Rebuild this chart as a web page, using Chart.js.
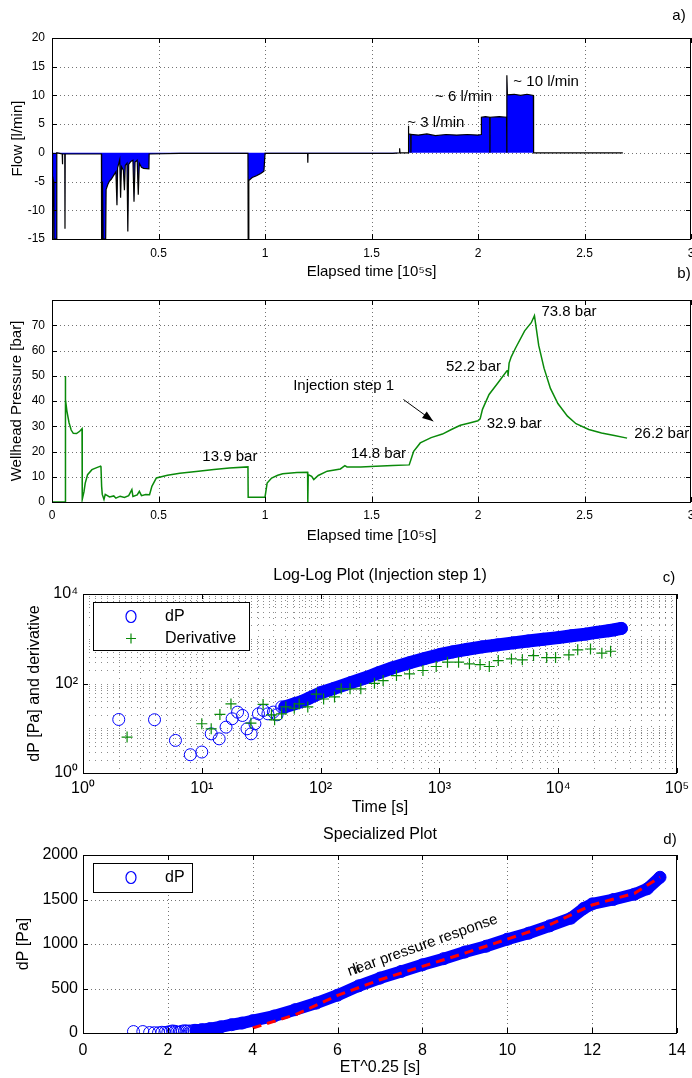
<!DOCTYPE html>
<html>
<head>
<meta charset="utf-8">
<script src="https://cdn.jsdelivr.net/npm/chart.js@4.4.1/dist/chart.umd.min.js"></script>
<style>
  html, body { margin: 0; padding: 0; background: #fff; }
  body { width: 692px; height: 1078px; position: relative; overflow: hidden; }
  .panel { position: absolute; left: 0; width: 692px; }
  canvas { display: block; }
</style>
</head>
<body>
<div class="panel" style="top:0;height:290px"><canvas id="flowChart"></canvas></div>
<div class="panel" style="top:262px;height:290px"><canvas id="pressureChart"></canvas></div>
<div class="panel" style="top:555px;height:265px"><canvas id="logChart"></canvas></div>
<div class="panel" style="top:820px;height:258px"><canvas id="specChart"></canvas></div>
<script>
// a) flow [l/min] vs elapsed time [1e5 s]
const flowTime = [0, 0.001, 0.003, 0.004, 0.008, 0.009, 0.013, 0.016, 0.02, 0.022, 0.023, 0.048, 0.049, 0.05, 0.06, 0.061, 0.062,
  0.232, 0.233, 0.236, 0.237, 0.24, 0.244, 0.248, 0.252, 0.254, 0.262, 0.27, 0.278, 0.288, 0.3, 0.305, 0.308, 0.318, 0.322,
  0.326, 0.335, 0.34, 0.344, 0.352, 0.356, 0.36, 0.37, 0.38, 0.385, 0.39, 0.4, 0.405, 0.41, 0.42, 0.43, 0.455, 0.456,
  0.6, 0.8, 0.92, 0.921, 0.924, 0.94, 0.96, 0.98, 0.995, 1.0, 1.2, 1.201, 1.202, 1.6, 1.63, 1.632, 1.634, 1.672, 1.673,
  1.675, 1.684, 1.685, 1.686, 1.72, 1.76, 1.8, 1.85, 1.9, 1.95, 2.0, 2.015, 2.016, 2.035, 2.055, 2.056, 2.057, 2.1, 2.134,
  2.135, 2.136, 2.138, 2.17, 2.2, 2.23, 2.26, 2.261, 2.68];
const flowRate = [0, -15, -15, -4, -5, -15, -15, -15, -15, -15, 0, -0.2, -2, -0.2, -0.2, -13.2, -0.2,
  -0.2, -15, -15, -5, -15, -15, -15, -15, -6.4, -5.5, -4.9, -4.6, -4, -3.3, -9.1, -2.6, -1.2, -7.8,
  -2.4, -3, -6.5, -2.2, -1.8, -13.7, -2, -1.5, -1.3, -8.5, -1.6, -1.3, -7.3, -1.8, -2.5, -2.7, -2.8, -0.2,
  -0.1, -0.1, -0.1, -15, -4.8, -4.3, -4, -3.6, -3.2, -0.1, -0.1, -1.7, -0.1, -0.1, 0, 0.8, 0, 0, 4.7,
  3.3, 3.2, 0, 3.2, 3.1, 3.3, 3.0, 3.2, 3.1, 3.2, 3.1, 3.2, 6.2, 6.3, 6.2, 0, 6.2, 6.3, 6.2,
  0, 13.5, 10.1, 10.2, 10.0, 10.2, 10.0, 0, 0];
const flowNotes = ['~ 3 l/min', '~ 6 l/min', '~ 10 l/min'];
const flowNoteX = [1.668, 1.798, 2.166];
const flowNoteY = [5.2, 9.8, 12.4];
const flowXTicks = [0.5, 1, 1.5, 2, 2.5, 3];
const flowYTicks = [-15, -10, -5, 0, 5, 10, 15, 20];

// b) wellhead pressure [bar]
const presTime = [0, 0.062, 0.0625, 0.064, 0.07, 0.08, 0.09, 0.1, 0.115, 0.13, 0.141, 0.142, 0.15, 0.156, 0.167, 0.1875,
  0.21, 0.228, 0.23, 0.233, 0.236, 0.244, 0.25, 0.26, 0.27, 0.29, 0.3, 0.32, 0.34, 0.36, 0.375, 0.38, 0.4, 0.41, 0.42,
  0.44, 0.458, 0.469, 0.49, 0.542, 0.6, 0.6875, 0.76, 0.833, 0.92, 0.921, 1.0, 1.01, 1.031, 1.06, 1.083, 1.15, 1.2,
  1.201, 1.203, 1.219, 1.229, 1.25, 1.292, 1.354, 1.375, 1.385, 1.45, 1.521, 1.6, 1.677, 1.69, 1.698, 1.729, 1.78,
  1.833, 1.875, 1.917, 1.96, 2.0, 2.01, 2.021, 2.052, 2.094, 2.135, 2.14, 2.141, 2.146, 2.156, 2.177, 2.219, 2.25,
  2.265, 2.285, 2.31, 2.34, 2.375, 2.42, 2.46, 2.52, 2.58, 2.64, 2.7];
const presBar = [0, 0, 49.9, 40.6, 36, 31.4, 28.5, 27.2, 27.1, 28, 29, 1, 4, 7.5, 10.8, 12.8,
  13.6, 14.2, 13.8, 6.2, 3, 1, 3, 2.5, 2, 2.4, 1.5, 2.3, 1.8, 2.5, 4.9, 2.2, 2.8, 4.2, 2.5,
  3, 2.9, 6.2, 9.5, 10.6, 11.4, 12.2, 12.9, 13.5, 13.9, 1.9, 1.9, 7.5, 9.5, 10.6, 11.2, 11.7, 11.8,
  0, 10.8, 10.2, 8.9, 10.5, 12.2, 13.1, 14.4, 13.9, 13.9, 14.2, 14.5, 14.7, 18, 20.1, 23.4, 25.5,
  26.9, 28.7, 30.4, 31.3, 32.2, 32.9, 36.7, 42.6, 47.2, 51.9, 52.2, 49.9, 55, 57.5, 61.1, 67.8, 71,
  73.8, 62, 53, 45, 39, 34, 31, 28.7, 27.3, 26.3, 25.3];
const presNotes = ['13.9 bar', '14.8 bar', 'Injection step 1', '32.9 bar', '52.2 bar', '73.8 bar', '26.2 bar'];
const presNoteX = [0.835, 1.533, 1.369, 2.17, 1.979, 2.427, 2.8625];
const presNoteY = [18, 19, 45.9, 31, 53.6, 75.3, 27];
const arrowFrom = [1.65, 40.6];
const arrowTo = [1.79, 32];
const presXTicks = [0, 0.5, 1, 1.5, 2, 2.5, 3];
const presYTicks = [0, 10, 20, 30, 40, 50, 60, 70];

// c) log-log plot, injection step 1
const llSparseTime = [2, 4, 6, 8, 10, 12, 14, 16, 18, 20, 22, 24, 26, 28, 30, 33, 36, 40, 43, 47];
const llSparseDp = [15.7, 15.5, 5.35, 2.56, 2.94, 7.5, 5.8, 10.6, 16.3, 22.9, 19.3, 9.7, 7.5, 12.6, 21, 25, 21, 23, 20, 30];
const llBandTime = [50, 60, 70, 80, 100, 130, 180, 250, 310, 400, 560, 750, 1000, 1300, 1700, 2300, 3100, 4200,
  5600, 7500, 10000, 13000, 17000, 21000, 26500, 30000, 34000];
const llBandDp = [30, 35, 40, 47, 62, 78, 105, 140, 175, 222, 290, 360, 440, 510, 580, 660, 730, 810,
  890, 975, 1060, 1170, 1270, 1390, 1510, 1590, 1700];
const derivTime = [2.35, 10, 12, 14.2, 17.6, 25.9, 32.8, 38.6, 41, 47, 51, 60, 66, 78, 92, 106, 131, 149, 177, 218,
  284, 336, 435, 560, 727, 940, 1170, 1450, 1790, 2200, 2630, 3130, 4040, 4990, 6200, 8000, 9500, 12300, 14600,
  18700, 23300, 27600];
const derivVal = [6.35, 12.6, 9.7, 20.4, 35, 13, 34, 20, 15.4, 21, 30, 28, 35, 30, 58, 45, 50, 76, 76, 76,
  101, 116, 150, 164, 195, 240, 300, 300, 275, 265, 240, 325, 355, 338, 420, 380, 380, 435, 565,
  590, 475, 525];
const decadeLabels = ['10\u2070', '10\u00B9', '10\u00B2', '10\u00B3', '10\u2074', '10\u2075'];

// d) specialized plot
const spSparseX = [1.19, 1.41, 1.57, 1.68, 1.78, 1.86, 1.93, 2.0, 2.06, 2.11, 2.17, 2.21, 2.26, 2.3, 2.34, 2.4, 2.45, 2.51, 2.56, 2.62];
const spSparseDp = [16, 16, 5, 3, 3, 8, 6, 11, 16, 23, 19, 10, 8, 13, 21, 25, 21, 23, 20, 30];
const spBandX = [2.66, 2.8, 3.0, 3.25, 3.5, 3.75, 4.0, 4.5, 5.0, 5.5, 6.0, 6.5, 7.0, 7.5, 8.0, 8.5, 9.0, 9.5,
  10.0, 10.5, 11.0, 11.5, 11.8, 12.0, 12.5, 13.0, 13.3, 13.6];
const spBandDp = [30, 38, 50, 70, 93, 112, 138, 190, 262, 336, 425, 530, 617, 692, 766, 835, 910, 975,
  1054, 1121, 1204, 1290, 1400, 1450, 1500, 1560, 1620, 1750];
const fitX = [4, 5, 6, 7, 8, 9, 10, 11, 12, 13, 13.6];
const fitDp = [56, 205, 422, 598, 748, 897, 1054, 1215, 1439, 1570, 1750];
const spXTicks = [0, 2, 4, 6, 8, 10, 12, 14];
const spYTicks = [0, 500, 1000, 1500, 2000];

Chart.defaults.font.family = '"Liberation Sans", Arial, Helvetica, sans-serif';
Chart.defaults.color = '#000';
Chart.defaults.animation = false;
Chart.defaults.plugins.legend.display = false;
Chart.defaults.plugins.tooltip.enabled = false;

const W = 692;
const pts = (xs, ys) => xs.map((v, i) => ({ x: v, y: ys[i] }));

function makeScale(o) {
  return {
    type: o.type || 'linear',
    position: o.position,
    min: o.min, max: o.max,
    grid: { display: false, drawTicks: false },
    border: { display: false },
    ticks: {
      autoSkip: false, maxRotation: 0, minRotation: 0,
      padding: o.pad, color: '#000',
      font: { size: o.size },
      callback: o.label
    },
    title: { display: true, text: o.title, color: '#000', font: { size: o.titleSize }, padding: o.titlePad },
    afterBuildTicks: s => { s.ticks = o.values.map(v => ({ value: v })); },
    afterFit: s => {
      if (o.position === 'left') s.width = o.fit; else s.height = o.fit;
      s.paddingLeft = 0; s.paddingRight = 0; s.paddingTop = 0; s.paddingBottom = 0;
    }
  };
}

function area(canvasTop, canvasH, top, bottom, left, right) {
  return {
    padding: { left: 0, right: W - right, top: top - canvasTop, bottom: 0 },
    xFit: canvasTop + canvasH - bottom,
    yFit: left
  };
}

function drawGrid(chart, dash, alpha) {
  const { ctx, chartArea: a, scales: { x, y } } = chart;
  ctx.save();
  ctx.strokeStyle = 'rgba(0,0,0,' + alpha + ')';
  ctx.lineWidth = 1;
  ctx.setLineDash(dash);
  ctx.beginPath();
  x.ticks.forEach(t => {
    const p = Math.round(x.getPixelForValue(t.value)) + 0.5;
    if (p > a.left + 2 && p < a.right - 2) { ctx.moveTo(p, a.top); ctx.lineTo(p, a.bottom); }
  });
  y.ticks.forEach(t => {
    const p = Math.round(y.getPixelForValue(t.value)) + 0.5;
    if (p > a.top + 2 && p < a.bottom - 2) { ctx.moveTo(a.left, p); ctx.lineTo(a.right, p); }
  });
  ctx.stroke();
  ctx.restore();
}

function drawFrame(chart) {
  const { ctx, chartArea: a, scales: { x, y } } = chart;
  const len = 5;
  ctx.save();
  ctx.strokeStyle = '#000';
  ctx.lineWidth = 1;
  ctx.beginPath();
  x.ticks.forEach(t => {
    if (!t.label) return;
    const p = Math.round(x.getPixelForValue(t.value)) + 0.5;
    ctx.moveTo(p, a.bottom); ctx.lineTo(p, a.bottom - len);
    ctx.moveTo(p, a.top); ctx.lineTo(p, a.top + len);
  });
  y.ticks.forEach(t => {
    if (!t.label) return;
    const p = Math.round(y.getPixelForValue(t.value)) + 0.5;
    ctx.moveTo(a.left, p); ctx.lineTo(a.left + len, p);
    ctx.moveTo(a.right, p); ctx.lineTo(a.right - len, p);
  });
  ctx.stroke();
  ctx.strokeRect(Math.round(a.left) + 0.5, Math.round(a.top) + 0.5,
    Math.round(a.right - a.left) - 1, Math.round(a.bottom - a.top));
  ctx.restore();
}

function text(ctx, str, px, py, size, align, rot) {
  ctx.save();
  ctx.font = size + 'px "Liberation Sans", Arial, sans-serif';
  ctx.fillStyle = '#000';
  ctx.textAlign = align || 'center';
  ctx.textBaseline = 'middle';
  ctx.translate(px, py);
  if (rot) ctx.rotate(rot);
  ctx.fillText(str, 0, 0);
  ctx.restore();
}

function legendBox(ctx, a, w, h, entries) {
  const left = Math.round(a.left) + 10, top = Math.round(a.top) + 8;
  ctx.save();
  ctx.fillStyle = '#fff';
  ctx.fillRect(left, top, w, h);
  ctx.strokeStyle = '#000';
  ctx.lineWidth = 1;
  ctx.strokeRect(left + 0.5, top + 0.5, w, h);
  entries.forEach((e, i) => {
    const cy = top + 14.5 + i * 22;
    const cx = left + 38;
    ctx.beginPath();
    ctx.strokeStyle = e.color;
    ctx.lineWidth = 1.2;
    if (e.marker === 'circle') {
      ctx.ellipse(cx, cy, 5, 6, 0, 0, Math.PI * 2);
    } else {
      ctx.moveTo(cx - 5, cy); ctx.lineTo(cx + 5, cy);
      ctx.moveTo(cx, cy - 5); ctx.lineTo(cx, cy + 5);
    }
    ctx.stroke();
    text(ctx, e.label, left + 72, cy, 16, 'left');
  });
  ctx.restore();
}

function decor(draw, dash, alpha) {
  return {
    id: 'decor',
    beforeDatasetsDraw(chart) { drawGrid(chart, dash || [1, 3], alpha || 0.55); },
    afterDatasetsDraw(chart) { drawFrame(chart); draw(chart); }
  };
}

const fmt = v => String(v);

// ---------- a) ----------
const la = area(0, 290, 38, 239, 52, 691);
new Chart(document.getElementById('flowChart'), {
  type: 'line',
  data: {
    datasets: [{
      label: 'Flow',
      data: pts(flowTime, flowRate),
      borderColor: '#000',
      borderWidth: 1.2,
      backgroundColor: '#0000ff',
      fill: 'origin',
      pointRadius: 0
    }]
  },
  options: {
    responsive: true, maintainAspectRatio: false,
    layout: { padding: la.padding },
    scales: {
      x: makeScale({ position: 'bottom', min: 0, max: 3, values: flowXTicks, label: fmt, size: 12, pad: 7,
        title: 'Elapsed time [10\u2075s]', titleSize: 15, titlePad: { top: 0, bottom: 9 }, fit: la.xFit }),
      y: makeScale({ position: 'left', min: -15, max: 20, values: flowYTicks, label: fmt, size: 12, pad: 7,
        title: 'Flow [l/min]', titleSize: 15, titlePad: { top: 9, bottom: 0 }, fit: la.yFit })
    }
  },
  plugins: [decor(chart => {
    const { ctx, scales: { x, y } } = chart;
    flowNotes.forEach((s, i) => text(ctx, s, x.getPixelForValue(flowNoteX[i]), y.getPixelForValue(flowNoteY[i]), 15, 'left'));
    text(ctx, 'a)', 679, 16, 15);
  })]
});

// ---------- b) ----------
const lb = area(262, 290, 300, 502, 52, 691);
new Chart(document.getElementById('pressureChart'), {
  type: 'line',
  data: {
    datasets: [{
      label: 'Wellhead Pressure',
      data: pts(presTime, presBar),
      borderColor: '#0a8a0a',
      borderWidth: 1.5,
      pointRadius: 0,
      fill: false
    }]
  },
  options: {
    responsive: true, maintainAspectRatio: false,
    layout: { padding: lb.padding },
    scales: {
      x: makeScale({ position: 'bottom', min: 0, max: 3, values: presXTicks, label: fmt, size: 12, pad: 6,
        title: 'Elapsed time [10\u2075s]', titleSize: 15, titlePad: { top: 0, bottom: 7 }, fit: lb.xFit }),
      y: makeScale({ position: 'left', min: 0, max: 80, values: presYTicks, label: fmt, size: 12, pad: 7,
        title: 'Wellhead Pressure [bar]', titleSize: 15, titlePad: { top: 8, bottom: 0 }, fit: lb.yFit })
    }
  },
  plugins: [decor(chart => {
    const { ctx, scales: { x, y } } = chart;
    presNotes.forEach((s, i) => text(ctx, s, x.getPixelForValue(presNoteX[i]), y.getPixelForValue(presNoteY[i]), 15));
    const x0 = x.getPixelForValue(arrowFrom[0]), y0 = y.getPixelForValue(arrowFrom[1]);
    const x1 = x.getPixelForValue(arrowTo[0]), y1 = y.getPixelForValue(arrowTo[1]);
    const ang = Math.atan2(y1 - y0, x1 - x0);
    ctx.save();
    ctx.strokeStyle = '#000';
    ctx.fillStyle = '#000';
    ctx.lineWidth = 1;
    ctx.beginPath(); ctx.moveTo(x0, y0); ctx.lineTo(x1, y1); ctx.stroke();
    ctx.beginPath();
    ctx.moveTo(x1, y1);
    ctx.lineTo(x1 - 11 * Math.cos(ang) + 4 * Math.sin(ang), y1 - 11 * Math.sin(ang) - 4 * Math.cos(ang));
    ctx.lineTo(x1 - 11 * Math.cos(ang) - 4 * Math.sin(ang), y1 - 11 * Math.sin(ang) + 4 * Math.cos(ang));
    ctx.closePath(); ctx.fill();
    ctx.restore();
    text(ctx, 'b)', 684, 12, 15);
  })]
});

// ---------- c) ----------
const minorTicks = (lo, hi) => {
  const out = [];
  for (let d = lo; d < hi; d++) for (let n = 1; n < 10; n++) out.push(n * Math.pow(10, d));
  out.push(Math.pow(10, hi));
  return out;
};
const decadeLabel = (v, keepOdd) => {
  const e = Math.round(Math.log10(v));
  if (Math.abs(v - Math.pow(10, e)) > 1e-9 * v) return '';
  if (!keepOdd && e % 2 === 1) return '';
  return decadeLabels[e];
};
const lc = area(555, 265, 594, 773, 83, 677);
new Chart(document.getElementById('logChart'), {
  type: 'scatter',
  data: {
    datasets: [{
      label: 'Derivative',
      data: pts(derivTime, derivVal),
      pointStyle: 'cross', pointRadius: 5.5, borderColor: '#0a8a0a', borderWidth: 1.2,
      order: 0
    }, {
      label: 'dP',
      data: pts(llBandTime, llBandDp),
      showLine: true, borderColor: '#0000ff', borderWidth: 13, borderCapStyle: 'round', borderJoinStyle: 'round',
      pointStyle: 'circle', pointRadius: 6, pointBorderColor: '#0000ff', pointBackgroundColor: 'rgba(0,0,0,0)',
      pointBorderWidth: 1, order: 1
    }, {
      label: 'dP',
      data: pts(llSparseTime, llSparseDp),
      pointStyle: 'circle', pointRadius: 6, borderColor: '#0000ff', backgroundColor: 'rgba(0,0,0,0)',
      borderWidth: 1, order: 2
    }]
  },
  options: {
    responsive: true, maintainAspectRatio: false,
    layout: { padding: lc.padding },
    scales: {
      x: makeScale({ type: 'logarithmic', position: 'bottom', min: 1, max: 1e5, values: minorTicks(0, 5),
        label: v => decadeLabel(v, true), size: 16, pad: 6,
        title: 'Time [s]', titleSize: 16, titlePad: { top: 0, bottom: 3 }, fit: lc.xFit }),
      y: makeScale({ type: 'logarithmic', position: 'left', min: 1, max: 1e4, values: minorTicks(0, 4),
        label: v => decadeLabel(v, false), size: 16, pad: 5,
        title: 'dP [Pa] and derivative', titleSize: 16, titlePad: { top: 25, bottom: 0 }, fit: lc.yFit })
    }
  },
  plugins: [decor(chart => {
    const { ctx, chartArea: a } = chart;
    legendBox(ctx, a, 156, 48, [
      { label: 'dP', marker: 'circle', color: '#0000ff' },
      { label: 'Derivative', marker: 'plus', color: '#0a8a0a' }
    ]);
    text(ctx, 'Log-Log Plot (Injection step 1)', (a.left + a.right) / 2, 21, 16);
    text(ctx, 'c)', 669, 23, 15);
  }, [1, 5], 0.45)]
});

// ---------- d) ----------
const ld = area(820, 258, 855, 1033, 83, 677);
new Chart(document.getElementById('specChart'), {
  type: 'scatter',
  data: {
    datasets: [{
      label: 'fit',
      data: pts(fitX, fitDp),
      showLine: true, borderColor: '#ff0000', borderWidth: 3, borderDash: [9, 6], pointRadius: 0,
      order: 0
    }, {
      label: 'dP',
      data: pts(spBandX, spBandDp),
      showLine: true, borderColor: '#0000ff', borderWidth: 12, borderCapStyle: 'round', borderJoinStyle: 'round',
      pointStyle: 'circle', pointRadius: 6, pointBorderColor: '#0000ff', pointBackgroundColor: 'rgba(0,0,0,0)',
      pointBorderWidth: 1, order: 1
    }, {
      label: 'dP',
      data: pts(spSparseX, spSparseDp),
      pointStyle: 'circle', pointRadius: 6, borderColor: '#0000ff', backgroundColor: 'rgba(0,0,0,0)',
      borderWidth: 1, order: 2
    }]
  },
  options: {
    responsive: true, maintainAspectRatio: false,
    layout: { padding: ld.padding },
    scales: {
      x: makeScale({ position: 'bottom', min: 0, max: 14, values: spXTicks, label: fmt, size: 16, pad: 8,
        title: 'ET^0.25 [s]', titleSize: 16, titlePad: { top: 0, bottom: 1 }, fit: ld.xFit }),
      y: makeScale({ position: 'left', min: 0, max: 2000, values: spYTicks, label: fmt, size: 16, pad: 5,
        title: 'dP [Pa]', titleSize: 16, titlePad: { top: 14, bottom: 0 }, fit: ld.yFit })
    }
  },
  plugins: [decor(chart => {
    const { ctx, chartArea: a, scales: { x, y } } = chart;
    const ang = -19.7 * Math.PI / 180;
    const sx = x.getPixelForValue(6.25), sy = y.getPixelForValue(684);
    text(ctx, 'near pressure response', sx, sy, 15, 'left', ang);
    // overlapping label remnant seen in the original figure
    text(ctx, 'li', sx + 6 * Math.cos(ang), sy + 6 * Math.sin(ang), 15, 'left', ang);
    legendBox(ctx, a, 99, 29, [{ label: 'dP', marker: 'circle', color: '#0000ff' }]);
    text(ctx, 'Specialized Plot', (a.left + a.right) / 2, 15, 16);
    text(ctx, 'd)', 670, 20, 15);
  })]
});
</script>
</body>
</html>
